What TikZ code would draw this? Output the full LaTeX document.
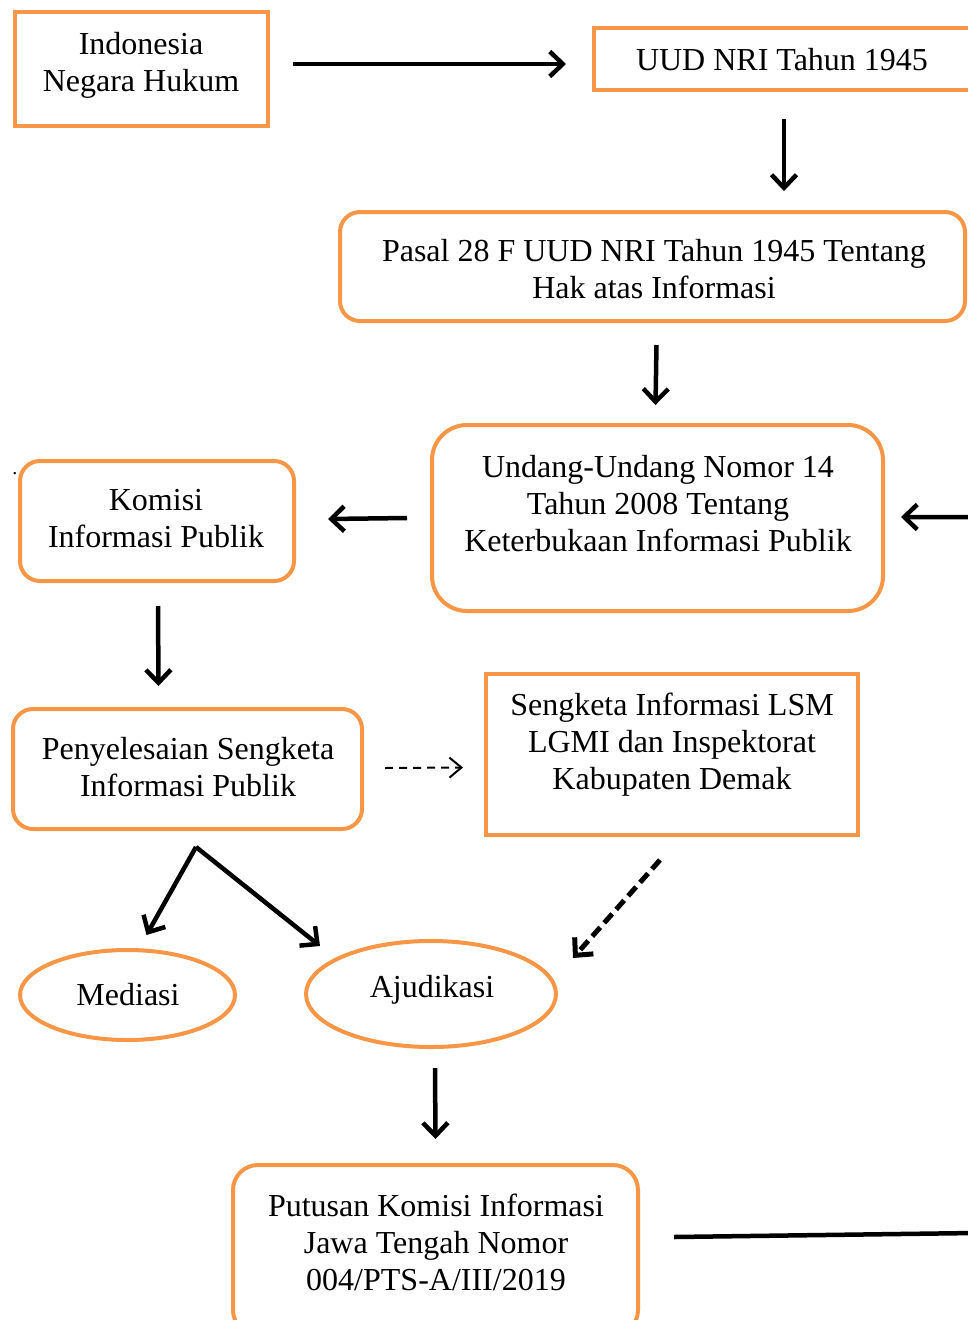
\documentclass[tikz,border=0pt]{standalone}
\usepackage{fontspec}
\setmainfont{Liberation Serif}
\usetikzlibrary{arrows.meta,shapes.geometric}
\definecolor{org}{HTML}{F79646}
\tikzset{
  sqbox/.style={draw=org, line width=4pt, inner sep=0pt, fill=none},
  rbox/.style={sqbox, rounded corners=20pt},
  oval/.style={draw=org, line width=4pt, ellipse, inner sep=0pt},
  txt/.style={align=center, inner sep=0pt, font=\fontsize{32}{37}\selectfont},
  arr/.style={draw=black, line width=4.5pt, -{Straight Barb[length=13pt,width=25pt]}},
  thinarr/.style={draw=black, line width=2pt, dash pattern=on 8pt off 6pt, -{Straight Barb[length=12pt,width=20pt]}},
  dasharr/.style={draw=black, line width=5pt, dash pattern=on 12pt off 6pt, -{Straight Barb[length=13pt,width=25pt]}},
}
\begin{document}
\begin{tikzpicture}[x=1pt,y=-1pt]
\useasboundingbox (0,0) rectangle (967,1320);
% boxes
\node[sqbox, minimum width=253pt, minimum height=114pt] (ind) at (141.5,69) {};
\node[txt] at (141,65) {Indonesia\\Negara Hukum};
\node[sqbox, minimum width=378pt, minimum height=62pt] (uud) at (783,59) {};
\node[txt] at (782,60) {UUD NRI Tahun 1945};
\node[rbox, minimum width=625pt, minimum height=109pt] (pas) at (652.5,266.5) {};
\node[txt] at (654,269) {Pasal 28 F UUD NRI Tahun 1945 Tentang\\Hak atas Informasi};
\node[rbox, rounded corners=35pt, minimum width=451pt, minimum height=186pt] (und) at (657.5,518) {};
\node[txt] at (658,504) {Undang-Undang Nomor 14\\Tahun 2008 Tentang\\Keterbukaan Informasi Publik};
\node[rbox, minimum width=274pt, minimum height=120pt] (kom) at (157,521) {};
\node[txt] at (156,519) {Komisi\\Informasi Publik};
\node[inner sep=0pt, font=\fontsize{20}{20}\selectfont] (dot) at (15,474) {.};
\node[rbox, minimum width=349pt, minimum height=120pt] (pen) at (187.5,769) {};
\node[txt] at (188,767) {Penyelesaian Sengketa\\Informasi Publik};
\node[sqbox, minimum width=372pt, minimum height=161pt] (sen) at (672,754.5) {};
\node[txt] at (672,745) {Sengketa Informasi LSM\\LGMI dan Inspektorat\\Kabupaten Demak};
\node[oval, minimum width=215pt, minimum height=90pt] (med) at (127.5,995) {};
\node[txt] at (128,995) {Mediasi};
\node[oval, minimum width=250pt, minimum height=106pt] (aju) at (431,994) {};
\node[txt] at (432,990) {Ajudikasi};
\node[rbox, rounded corners=25pt, minimum width=405pt, minimum height=170pt] (put) at (435.5,1250) {};
\node[txt] at (436,1242) {Putusan Komisi Informasi\\Jawa Tengah Nomor\\004/PTS-A/III/2019};
% connectors
\draw[arr] ([xshift=23pt,yshift=5pt]ind.east) -- ([xshift=-26pt,yshift=-5pt]uud.west);
\draw[arr] ([xshift=1pt,yshift=-27pt]uud.south) -- ([xshift=1pt,yshift=19pt]uud.south |- pas.north);
\draw[arr] ([xshift=4pt,yshift=-22pt]pas.south) -- ([xshift=-2pt,yshift=18pt]und.north);
\draw[arr] ([xshift=-23pt]und.west) -- ([xshift=32pt,yshift=2pt]kom.east);
\draw[arr] ([xshift=1pt,yshift=-23pt]kom.south) -- ([xshift=-29pt,yshift=21pt]pen.north);
\draw[thinarr] ([xshift=21pt,yshift=1pt]pen.east) -- ([xshift=-21pt,yshift=-13pt]sen.west);
\coordinate (fork) at (196,847);
\draw[arr] (fork) -- ([xshift=19pt,yshift=13pt]med.north);
\draw[arr] (fork) -- ([xshift=-111pt,yshift=-7pt]aju.north);
\draw[dasharr] ([xshift=-12pt,yshift=-23pt]sen.south) -- ([xshift=142pt,yshift=-19pt]aju.north);
\draw[arr] ([xshift=4pt,yshift=-19pt]aju.south) -- ([yshift=24pt]put.north);
\draw[line width=4.5pt, -{Straight Barb[length=13pt,width=25pt]}] ([xshift=34pt,yshift=13pt]put.east) -- (975,1233) |- ([xshift=16pt,yshift=1pt]und.east);
\end{tikzpicture}
\end{document}
